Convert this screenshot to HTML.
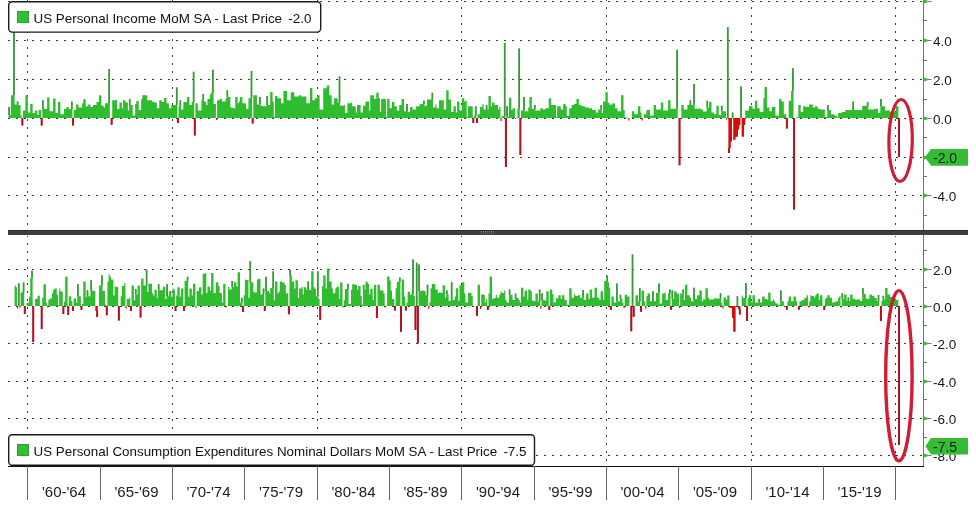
<!DOCTYPE html>
<html><head><meta charset="utf-8"><title>US Personal Income and Consumption</title>
<style>html,body{margin:0;padding:0;background:#fff;}svg{display:block;}</style>
</head><body>
<svg width="976" height="507" viewBox="0 0 976 507">
<style>
.gh{stroke:#3a3a3a;stroke-width:1;stroke-dasharray:2 6;}
.gv{stroke:#3a3a3a;stroke-width:1;stroke-dasharray:2 6;stroke-dashoffset:1;}
.tk{fill:#45b545;}
.tl{stroke:#5a7a5a;stroke-width:0.9;}
.mt{stroke:#4f8f4f;stroke-width:1;}
.al{font-family:"Liberation Sans",sans-serif;font-size:13.5px;fill:#161616;}
.xl{font-family:"Liberation Sans",sans-serif;font-size:15px;fill:#1c1c1c;text-anchor:middle;}
.sp{stroke:#666;stroke-width:1;}
.lg{font-family:"Liberation Sans",sans-serif;font-size:13.4px;fill:#111;}
</style>
<rect width="976" height="507" fill="#fff"/>
<line x1="8" y1="1.5" x2="923" y2="1.5" class="gh"/><line x1="8" y1="40.5" x2="923" y2="40.5" class="gh"/><line x1="8" y1="79.5" x2="923" y2="79.5" class="gh"/><line x1="8" y1="118.5" x2="923" y2="118.5" class="gh"/><line x1="8" y1="157.5" x2="923" y2="157.5" class="gh"/><line x1="8" y1="195.5" x2="923" y2="195.5" class="gh"/><line x1="8" y1="269.5" x2="923" y2="269.5" class="gh"/><line x1="8" y1="306.5" x2="923" y2="306.5" class="gh"/><line x1="8" y1="343.5" x2="923" y2="343.5" class="gh"/><line x1="8" y1="381.5" x2="923" y2="381.5" class="gh"/><line x1="8" y1="418.5" x2="923" y2="418.5" class="gh"/><line x1="8" y1="455.5" x2="923" y2="455.5" class="gh"/><line x1="27.5" y1="0" x2="27.5" y2="229" class="gv"/><line x1="27.5" y1="236" x2="27.5" y2="465" class="gv"/><line x1="172.5" y1="0" x2="172.5" y2="229" class="gv"/><line x1="172.5" y1="236" x2="172.5" y2="465" class="gv"/><line x1="317.5" y1="0" x2="317.5" y2="229" class="gv"/><line x1="317.5" y1="236" x2="317.5" y2="465" class="gv"/><line x1="461.5" y1="0" x2="461.5" y2="229" class="gv"/><line x1="461.5" y1="236" x2="461.5" y2="465" class="gv"/><line x1="606.5" y1="0" x2="606.5" y2="229" class="gv"/><line x1="606.5" y1="236" x2="606.5" y2="465" class="gv"/><line x1="751.5" y1="0" x2="751.5" y2="229" class="gv"/><line x1="751.5" y1="236" x2="751.5" y2="465" class="gv"/><line x1="895.5" y1="0" x2="895.5" y2="229" class="gv"/><line x1="895.5" y1="236" x2="895.5" y2="465" class="gv"/>
<path d="M8.52 107h1.21V118h-1.21zM9.72 115h1.21V118h-1.21zM10.93 95.3h1.21V118h-1.21zM12.13 95.3h1.21V118h-1.21zM13.34 18h1.21V118h-1.21zM14.55 104.5h1.21V118h-1.21zM15.75 104.5h1.21V118h-1.21zM16.96 101.4h1.21V118h-1.21zM18.16 105.1h1.21V118h-1.21zM19.37 105.1h1.21V118h-1.21zM20.57 115.5h1.21V118h-1.21zM22.99 110.6h1.21V118h-1.21zM24.19 110.6h1.21V118h-1.21zM25.4 95.3h1.21V118h-1.21zM26.6 95.3h1.21V118h-1.21zM27.81 112.5h1.21V118h-1.21zM29.02 112.5h1.21V118h-1.21zM30.22 104h1.21V118h-1.21zM31.43 104h1.21V118h-1.21zM32.63 113.1h1.21V118h-1.21zM33.84 113.1h1.21V118h-1.21zM35.04 110.6h1.21V118h-1.21zM36.25 110.6h1.21V118h-1.21zM37.46 115h1.21V118h-1.21zM38.66 110h1.21V118h-1.21zM39.87 110h1.21V118h-1.21zM42.28 100.2h1.21V118h-1.21zM43.48 109h1.21V118h-1.21zM44.69 109h1.21V118h-1.21zM45.9 109h1.21V118h-1.21zM47.1 97.5h1.21V118h-1.21zM48.31 97.5h1.21V118h-1.21zM49.51 111.2h1.21V118h-1.21zM50.72 111.2h1.21V118h-1.21zM51.93 111.2h1.21V118h-1.21zM53.13 98.4h1.21V118h-1.21zM54.34 98.4h1.21V118h-1.21zM55.54 113.1h1.21V118h-1.21zM56.75 113.1h1.21V118h-1.21zM57.95 102h1.21V118h-1.21zM59.16 102h1.21V118h-1.21zM60.37 114.3h1.21V118h-1.21zM61.57 114.3h1.21V118h-1.21zM62.78 114.3h1.21V118h-1.21zM63.98 109h1.21V118h-1.21zM65.19 109h1.21V118h-1.21zM66.4 107h1.21V118h-1.21zM67.6 107h1.21V118h-1.21zM68.81 109h1.21V118h-1.21zM70.01 109h1.21V118h-1.21zM71.22 101.4h1.21V118h-1.21zM73.63 110h1.21V118h-1.21zM74.84 110h1.21V118h-1.21zM76.04 104.5h1.21V118h-1.21zM77.25 104.5h1.21V118h-1.21zM78.45 107.5h1.21V118h-1.21zM79.66 107.5h1.21V118h-1.21zM80.86 107.5h1.21V118h-1.21zM82.07 103.2h1.21V118h-1.21zM83.28 99.3h1.21V118h-1.21zM84.48 99.3h1.21V118h-1.21zM85.69 106.3h1.21V118h-1.21zM86.89 106.3h1.21V118h-1.21zM88.1 104.5h1.21V118h-1.21zM89.31 104.5h1.21V118h-1.21zM90.51 107h1.21V118h-1.21zM91.72 107h1.21V118h-1.21zM92.92 105.1h1.21V118h-1.21zM94.13 105.1h1.21V118h-1.21zM95.33 105.1h1.21V118h-1.21zM96.54 102h1.21V118h-1.21zM97.75 102h1.21V118h-1.21zM98.95 95.3h1.21V118h-1.21zM100.16 95.3h1.21V118h-1.21zM101.36 105.7h1.21V118h-1.21zM102.57 105.7h1.21V118h-1.21zM103.77 107.5h1.21V118h-1.21zM104.98 103.2h1.21V118h-1.21zM106.19 103.2h1.21V118h-1.21zM107.39 103.2h1.21V118h-1.21zM108.6 69h1.21V118h-1.21zM112.22 100.2h1.21V118h-1.21zM113.42 100.2h1.21V118h-1.21zM114.63 100.2h1.21V118h-1.21zM115.83 100.2h1.21V118h-1.21zM117.04 109h1.21V118h-1.21zM118.24 109h1.21V118h-1.21zM119.45 102.6h1.21V118h-1.21zM120.66 102.6h1.21V118h-1.21zM121.86 108.2h1.21V118h-1.21zM123.07 100.2h1.21V118h-1.21zM124.27 100.2h1.21V118h-1.21zM125.48 102.6h1.21V118h-1.21zM126.69 102.6h1.21V118h-1.21zM127.89 110.6h1.21V118h-1.21zM129.1 99h1.21V118h-1.21zM130.3 105h1.21V118h-1.21zM131.51 105h1.21V118h-1.21zM132.71 115.5h1.21V118h-1.21zM133.92 115.5h1.21V118h-1.21zM135.13 104h1.21V118h-1.21zM136.33 101h1.21V118h-1.21zM137.54 101h1.21V118h-1.21zM138.74 110h1.21V118h-1.21zM139.95 110h1.21V118h-1.21zM141.15 99h1.21V118h-1.21zM142.36 95.3h1.21V118h-1.21zM143.57 95.3h1.21V118h-1.21zM144.77 95.3h1.21V118h-1.21zM145.98 95.3h1.21V118h-1.21zM147.18 100.2h1.21V118h-1.21zM148.39 100.2h1.21V118h-1.21zM149.6 100.2h1.21V118h-1.21zM150.8 100.2h1.21V118h-1.21zM152.01 101.8h1.21V118h-1.21zM153.21 101.8h1.21V118h-1.21zM154.42 102.6h1.21V118h-1.21zM155.62 102.6h1.21V118h-1.21zM156.83 108.2h1.21V118h-1.21zM158.04 108.2h1.21V118h-1.21zM159.24 100.2h1.21V118h-1.21zM160.45 100.2h1.21V118h-1.21zM161.65 102h1.21V118h-1.21zM162.86 102h1.21V118h-1.21zM164.06 98h1.21V118h-1.21zM165.27 98h1.21V118h-1.21zM166.48 103.2h1.21V118h-1.21zM167.68 103.2h1.21V118h-1.21zM168.89 108.2h1.21V118h-1.21zM170.09 108.2h1.21V118h-1.21zM171.3 105h1.21V118h-1.21zM172.51 105h1.21V118h-1.21zM173.71 105h1.21V118h-1.21zM174.92 105h1.21V118h-1.21zM176.12 87.5h1.21V118h-1.21zM178.53 106.3h1.21V118h-1.21zM179.74 100.2h1.21V118h-1.21zM180.95 109.4h1.21V118h-1.21zM182.15 109.4h1.21V118h-1.21zM183.36 102h1.21V118h-1.21zM184.56 102h1.21V118h-1.21zM185.77 102h1.21V118h-1.21zM186.98 97h1.21V118h-1.21zM188.18 97h1.21V118h-1.21zM189.39 105h1.21V118h-1.21zM190.59 105h1.21V118h-1.21zM191.8 102h1.21V118h-1.21zM193 71.7h1.21V118h-1.21zM195.42 103.2h1.21V118h-1.21zM196.62 103.2h1.21V118h-1.21zM197.83 110.6h1.21V118h-1.21zM199.03 110.6h1.21V118h-1.21zM200.24 110.6h1.21V118h-1.21zM201.44 100.2h1.21V118h-1.21zM202.65 94h1.21V118h-1.21zM203.86 101.4h1.21V118h-1.21zM205.06 101.4h1.21V118h-1.21zM206.27 105h1.21V118h-1.21zM207.47 99h1.21V118h-1.21zM208.68 99h1.21V118h-1.21zM209.89 94.6h1.21V118h-1.21zM211.09 92.2h1.21V118h-1.21zM212.3 69.7h1.21V118h-1.21zM213.5 104h1.21V118h-1.21zM214.71 104h1.21V118h-1.21zM217.12 100.2h1.21V118h-1.21zM218.33 100.2h1.21V118h-1.21zM219.53 99h1.21V118h-1.21zM220.74 99h1.21V118h-1.21zM221.94 101.4h1.21V118h-1.21zM223.15 101.4h1.21V118h-1.21zM224.35 101.4h1.21V118h-1.21zM225.56 98.3h1.21V118h-1.21zM226.77 90.3h1.21V118h-1.21zM227.97 97h1.21V118h-1.21zM229.18 97h1.21V118h-1.21zM230.38 107.5h1.21V118h-1.21zM231.59 107.5h1.21V118h-1.21zM232.8 108.2h1.21V118h-1.21zM234 108.2h1.21V118h-1.21zM235.21 97h1.21V118h-1.21zM236.41 97h1.21V118h-1.21zM237.62 103.2h1.21V118h-1.21zM238.82 101.4h1.21V118h-1.21zM240.03 97h1.21V118h-1.21zM241.24 97h1.21V118h-1.21zM242.44 103.2h1.21V118h-1.21zM243.65 103.2h1.21V118h-1.21zM244.85 103.2h1.21V118h-1.21zM246.06 108.8h1.21V118h-1.21zM247.27 108.8h1.21V118h-1.21zM248.47 98.3h1.21V118h-1.21zM249.68 98.3h1.21V118h-1.21zM250.88 71h1.21V118h-1.21zM253.29 95.3h1.21V118h-1.21zM254.5 95.3h1.21V118h-1.21zM255.71 95.3h1.21V118h-1.21zM256.91 104.5h1.21V118h-1.21zM258.12 104.5h1.21V118h-1.21zM259.32 97h1.21V118h-1.21zM260.53 105.7h1.21V118h-1.21zM261.73 105.7h1.21V118h-1.21zM262.94 106.3h1.21V118h-1.21zM264.15 106.3h1.21V118h-1.21zM265.35 106.3h1.21V118h-1.21zM266.56 96h1.21V118h-1.21zM267.76 105h1.21V118h-1.21zM268.97 105h1.21V118h-1.21zM270.18 92h1.21V118h-1.21zM271.38 92h1.21V118h-1.21zM272.59 101.4h1.21V118h-1.21zM273.79 117h1.21V118h-1.21zM275 96h1.21V118h-1.21zM276.2 96h1.21V118h-1.21zM277.41 98.3h1.21V118h-1.21zM278.62 98.3h1.21V118h-1.21zM279.82 98.3h1.21V118h-1.21zM281.03 103.2h1.21V118h-1.21zM282.23 103.2h1.21V118h-1.21zM283.44 91h1.21V118h-1.21zM284.64 91h1.21V118h-1.21zM285.85 91h1.21V118h-1.21zM287.06 100.2h1.21V118h-1.21zM288.26 100.2h1.21V118h-1.21zM289.47 100.2h1.21V118h-1.21zM290.67 92.2h1.21V118h-1.21zM291.88 92.2h1.21V118h-1.21zM293.09 92.2h1.21V118h-1.21zM294.29 96.5h1.21V118h-1.21zM295.5 96.5h1.21V118h-1.21zM296.7 96.5h1.21V118h-1.21zM297.91 96.5h1.21V118h-1.21zM299.11 95.3h1.21V118h-1.21zM300.32 95.3h1.21V118h-1.21zM301.53 96.5h1.21V118h-1.21zM302.73 96.5h1.21V118h-1.21zM303.94 96.5h1.21V118h-1.21zM305.14 96.5h1.21V118h-1.21zM306.35 103.2h1.21V118h-1.21zM307.56 103.2h1.21V118h-1.21zM308.76 103.2h1.21V118h-1.21zM309.97 88h1.21V118h-1.21zM311.17 88h1.21V118h-1.21zM312.38 100.2h1.21V118h-1.21zM313.58 100.2h1.21V118h-1.21zM314.79 98.3h1.21V118h-1.21zM316 98.3h1.21V118h-1.21zM317.2 95.3h1.21V118h-1.21zM318.41 95.3h1.21V118h-1.21zM319.61 109.4h1.21V118h-1.21zM320.82 109.4h1.21V118h-1.21zM322.02 109.4h1.21V118h-1.21zM323.23 88.2h1.21V118h-1.21zM324.44 88.2h1.21V118h-1.21zM325.64 88.2h1.21V118h-1.21zM326.85 85.4h1.21V118h-1.21zM328.05 85.4h1.21V118h-1.21zM329.26 95.3h1.21V118h-1.21zM330.47 95.3h1.21V118h-1.21zM331.67 104.5h1.21V118h-1.21zM332.88 104.5h1.21V118h-1.21zM334.08 98.3h1.21V118h-1.21zM335.29 98.3h1.21V118h-1.21zM336.49 98.3h1.21V118h-1.21zM337.7 102.6h1.21V118h-1.21zM338.91 76.6h1.21V118h-1.21zM340.11 105.7h1.21V118h-1.21zM341.32 105.7h1.21V118h-1.21zM342.52 105.7h1.21V118h-1.21zM343.73 105h1.21V118h-1.21zM344.93 113h1.21V118h-1.21zM346.14 113h1.21V118h-1.21zM347.35 103.2h1.21V118h-1.21zM348.55 103.2h1.21V118h-1.21zM349.76 103.2h1.21V118h-1.21zM350.96 102.6h1.21V118h-1.21zM352.17 106.3h1.21V118h-1.21zM353.38 106.3h1.21V118h-1.21zM354.58 106.3h1.21V118h-1.21zM355.79 112.5h1.21V118h-1.21zM356.99 105h1.21V118h-1.21zM358.2 105h1.21V118h-1.21zM359.4 105h1.21V118h-1.21zM360.61 112.5h1.21V118h-1.21zM361.82 112.5h1.21V118h-1.21zM363.02 105.7h1.21V118h-1.21zM364.23 105.7h1.21V118h-1.21zM365.43 101.4h1.21V118h-1.21zM366.64 101.4h1.21V118h-1.21zM367.85 101.4h1.21V118h-1.21zM369.05 110.6h1.21V118h-1.21zM370.26 95.3h1.21V118h-1.21zM371.46 95.3h1.21V118h-1.21zM372.67 95.3h1.21V118h-1.21zM373.87 99h1.21V118h-1.21zM375.08 99h1.21V118h-1.21zM376.29 92.8h1.21V118h-1.21zM377.49 92.8h1.21V118h-1.21zM378.7 98.3h1.21V118h-1.21zM379.9 112h1.21V118h-1.21zM381.11 99h1.21V118h-1.21zM382.31 99h1.21V118h-1.21zM383.52 99h1.21V118h-1.21zM384.73 99h1.21V118h-1.21zM385.93 116.8h1.21V118h-1.21zM387.14 99h1.21V118h-1.21zM388.34 99h1.21V118h-1.21zM389.55 108.2h1.21V118h-1.21zM390.76 108.2h1.21V118h-1.21zM391.96 102h1.21V118h-1.21zM393.17 102h1.21V118h-1.21zM394.37 106.3h1.21V118h-1.21zM395.58 106.3h1.21V118h-1.21zM396.78 110.6h1.21V118h-1.21zM397.99 110.6h1.21V118h-1.21zM399.2 105h1.21V118h-1.21zM400.4 105h1.21V118h-1.21zM401.61 99h1.21V118h-1.21zM402.81 99h1.21V118h-1.21zM404.02 111.2h1.21V118h-1.21zM405.22 111.2h1.21V118h-1.21zM406.43 104h1.21V118h-1.21zM407.64 112h1.21V118h-1.21zM408.84 112h1.21V118h-1.21zM410.05 107h1.21V118h-1.21zM411.25 107h1.21V118h-1.21zM412.46 109.4h1.21V118h-1.21zM413.67 109.4h1.21V118h-1.21zM414.87 109.4h1.21V118h-1.21zM416.08 106.3h1.21V118h-1.21zM417.28 106.3h1.21V118h-1.21zM418.49 106.3h1.21V118h-1.21zM419.69 104h1.21V118h-1.21zM420.9 104h1.21V118h-1.21zM422.11 104h1.21V118h-1.21zM423.31 100.8h1.21V118h-1.21zM424.52 105.7h1.21V118h-1.21zM425.72 105.7h1.21V118h-1.21zM426.93 99.6h1.21V118h-1.21zM428.14 99.6h1.21V118h-1.21zM429.34 99.6h1.21V118h-1.21zM430.55 99.6h1.21V118h-1.21zM431.75 92.8h1.21V118h-1.21zM432.96 107.5h1.21V118h-1.21zM434.16 107.5h1.21V118h-1.21zM435.37 104.5h1.21V118h-1.21zM436.58 108.2h1.21V118h-1.21zM437.78 108.2h1.21V118h-1.21zM438.99 100.2h1.21V118h-1.21zM440.19 100.2h1.21V118h-1.21zM441.4 100.2h1.21V118h-1.21zM442.6 100.2h1.21V118h-1.21zM443.81 109.4h1.21V118h-1.21zM445.02 109.4h1.21V118h-1.21zM446.22 90.3h1.21V118h-1.21zM447.43 90.3h1.21V118h-1.21zM448.63 99.6h1.21V118h-1.21zM449.84 99.6h1.21V118h-1.21zM451.05 112h1.21V118h-1.21zM452.25 112h1.21V118h-1.21zM453.46 106.3h1.21V118h-1.21zM454.66 106.3h1.21V118h-1.21zM455.87 112.5h1.21V118h-1.21zM457.07 101.4h1.21V118h-1.21zM458.28 101.4h1.21V118h-1.21zM459.49 110.6h1.21V118h-1.21zM460.69 110.6h1.21V118h-1.21zM461.9 98.3h1.21V118h-1.21zM463.1 98.3h1.21V118h-1.21zM464.31 101.4h1.21V118h-1.21zM465.51 100.8h1.21V118h-1.21zM466.72 117h1.21V118h-1.21zM467.93 106.3h1.21V118h-1.21zM469.13 106.3h1.21V118h-1.21zM470.34 106.3h1.21V118h-1.21zM471.54 106.3h1.21V118h-1.21zM473.96 115.5h1.21V118h-1.21zM475.16 106.3h1.21V118h-1.21zM477.57 114.3h1.21V118h-1.21zM478.78 114.3h1.21V118h-1.21zM479.98 107h1.21V118h-1.21zM481.19 107h1.21V118h-1.21zM482.4 104h1.21V118h-1.21zM483.6 109.4h1.21V118h-1.21zM484.81 109.4h1.21V118h-1.21zM486.01 105h1.21V118h-1.21zM487.22 109.4h1.21V118h-1.21zM488.43 96h1.21V118h-1.21zM489.63 96h1.21V118h-1.21zM490.84 106.3h1.21V118h-1.21zM492.04 102.6h1.21V118h-1.21zM493.25 102.6h1.21V118h-1.21zM494.45 105h1.21V118h-1.21zM495.66 105h1.21V118h-1.21zM496.87 105h1.21V118h-1.21zM498.07 109.4h1.21V118h-1.21zM499.28 107h1.21V118h-1.21zM501.69 116h1.21V118h-1.21zM502.89 116h1.21V118h-1.21zM504.1 43h1.21V118h-1.21zM506.51 106.3h1.21V118h-1.21zM507.72 117h1.21V118h-1.21zM508.92 97.7h1.21V118h-1.21zM510.13 97.7h1.21V118h-1.21zM511.34 110h1.21V118h-1.21zM512.54 108.2h1.21V118h-1.21zM513.75 108.2h1.21V118h-1.21zM517.36 108.8h1.21V118h-1.21zM518.57 48.5h1.21V118h-1.21zM520.98 110.6h1.21V118h-1.21zM522.19 110.6h1.21V118h-1.21zM523.39 97h1.21V118h-1.21zM524.6 111.2h1.21V118h-1.21zM525.8 111.2h1.21V118h-1.21zM527.01 111.2h1.21V118h-1.21zM528.22 107.5h1.21V118h-1.21zM529.42 97h1.21V118h-1.21zM530.63 97h1.21V118h-1.21zM531.83 108.8h1.21V118h-1.21zM533.04 108.8h1.21V118h-1.21zM534.25 105h1.21V118h-1.21zM535.45 110.6h1.21V118h-1.21zM536.66 110.6h1.21V118h-1.21zM537.86 110.6h1.21V118h-1.21zM539.07 110.6h1.21V118h-1.21zM540.27 108.2h1.21V118h-1.21zM541.48 108.2h1.21V118h-1.21zM542.69 109.4h1.21V118h-1.21zM543.89 109.4h1.21V118h-1.21zM545.1 108.2h1.21V118h-1.21zM546.3 108.2h1.21V118h-1.21zM547.51 108.2h1.21V118h-1.21zM548.72 98.3h1.21V118h-1.21zM549.92 98.3h1.21V118h-1.21zM551.13 105h1.21V118h-1.21zM552.33 105h1.21V118h-1.21zM553.54 105h1.21V118h-1.21zM554.74 105h1.21V118h-1.21zM555.95 117h1.21V118h-1.21zM557.16 106.3h1.21V118h-1.21zM558.36 106.3h1.21V118h-1.21zM559.57 106.3h1.21V118h-1.21zM560.77 109.4h1.21V118h-1.21zM561.98 109.4h1.21V118h-1.21zM563.18 104h1.21V118h-1.21zM564.39 104h1.21V118h-1.21zM565.6 106.3h1.21V118h-1.21zM566.8 116h1.21V118h-1.21zM568.01 116h1.21V118h-1.21zM569.21 108.2h1.21V118h-1.21zM570.42 108.2h1.21V118h-1.21zM571.63 105h1.21V118h-1.21zM572.83 105h1.21V118h-1.21zM574.04 104h1.21V118h-1.21zM575.24 104h1.21V118h-1.21zM576.45 99h1.21V118h-1.21zM577.65 99h1.21V118h-1.21zM578.86 105h1.21V118h-1.21zM580.07 105h1.21V118h-1.21zM581.27 106.3h1.21V118h-1.21zM582.48 106.3h1.21V118h-1.21zM583.68 106.3h1.21V118h-1.21zM584.89 107.5h1.21V118h-1.21zM586.09 107.5h1.21V118h-1.21zM587.3 107.5h1.21V118h-1.21zM588.51 108.2h1.21V118h-1.21zM589.71 108.2h1.21V118h-1.21zM590.92 108.2h1.21V118h-1.21zM592.12 110h1.21V118h-1.21zM593.33 110h1.21V118h-1.21zM594.54 110h1.21V118h-1.21zM595.74 112.5h1.21V118h-1.21zM596.95 112.5h1.21V118h-1.21zM598.15 109.4h1.21V118h-1.21zM599.36 109.4h1.21V118h-1.21zM600.56 105h1.21V118h-1.21zM601.77 113h1.21V118h-1.21zM602.98 101.4h1.21V118h-1.21zM604.18 101.4h1.21V118h-1.21zM605.39 92.2h1.21V118h-1.21zM606.59 92.2h1.21V118h-1.21zM607.8 102.6h1.21V118h-1.21zM609.01 104.5h1.21V118h-1.21zM610.21 104.5h1.21V118h-1.21zM611.42 104.5h1.21V118h-1.21zM612.62 103.2h1.21V118h-1.21zM613.83 103.2h1.21V118h-1.21zM615.03 108.2h1.21V118h-1.21zM616.24 108.2h1.21V118h-1.21zM617.45 111.2h1.21V118h-1.21zM618.65 111.2h1.21V118h-1.21zM619.86 111.2h1.21V118h-1.21zM621.06 95.3h1.21V118h-1.21zM622.27 95.3h1.21V118h-1.21zM623.47 110h1.21V118h-1.21zM624.68 117.5h1.21V118h-1.21zM625.89 117.5h1.21V118h-1.21zM627.09 117.5h1.21V118h-1.21zM631.92 111.2h1.21V118h-1.21zM633.12 111.2h1.21V118h-1.21zM634.33 114.3h1.21V118h-1.21zM635.53 114.3h1.21V118h-1.21zM636.74 114.3h1.21V118h-1.21zM637.94 106.3h1.21V118h-1.21zM639.15 106.3h1.21V118h-1.21zM640.36 112.5h1.21V118h-1.21zM643.97 114.3h1.21V118h-1.21zM645.18 114.3h1.21V118h-1.21zM646.38 110h1.21V118h-1.21zM647.59 110h1.21V118h-1.21zM648.8 110h1.21V118h-1.21zM650 115.5h1.21V118h-1.21zM651.21 115.5h1.21V118h-1.21zM652.41 115.5h1.21V118h-1.21zM653.62 105h1.21V118h-1.21zM654.83 105h1.21V118h-1.21zM656.03 109.4h1.21V118h-1.21zM657.24 109.4h1.21V118h-1.21zM658.44 109.4h1.21V118h-1.21zM659.65 109.4h1.21V118h-1.21zM660.85 102.6h1.21V118h-1.21zM662.06 102.6h1.21V118h-1.21zM663.27 110.6h1.21V118h-1.21zM664.47 110.6h1.21V118h-1.21zM665.68 110.6h1.21V118h-1.21zM666.88 110.6h1.21V118h-1.21zM668.09 100.2h1.21V118h-1.21zM669.3 100.2h1.21V118h-1.21zM670.5 108.8h1.21V118h-1.21zM671.71 108.8h1.21V118h-1.21zM672.91 108.8h1.21V118h-1.21zM674.12 108.8h1.21V118h-1.21zM675.32 108.8h1.21V118h-1.21zM676.53 49.7h1.21V118h-1.21zM681.35 105h1.21V118h-1.21zM682.56 105h1.21V118h-1.21zM683.76 109.4h1.21V118h-1.21zM684.97 109.4h1.21V118h-1.21zM686.18 109.4h1.21V118h-1.21zM687.38 105h1.21V118h-1.21zM688.59 105h1.21V118h-1.21zM689.79 100.2h1.21V118h-1.21zM691 105h1.21V118h-1.21zM692.21 105h1.21V118h-1.21zM693.41 84h1.21V118h-1.21zM694.62 108.8h1.21V118h-1.21zM695.82 108.8h1.21V118h-1.21zM697.03 108.8h1.21V118h-1.21zM698.23 108.8h1.21V118h-1.21zM699.44 108.2h1.21V118h-1.21zM700.65 109.4h1.21V118h-1.21zM701.85 109.4h1.21V118h-1.21zM703.06 111.5h1.21V118h-1.21zM704.26 111.5h1.21V118h-1.21zM705.47 111.5h1.21V118h-1.21zM706.67 100.8h1.21V118h-1.21zM707.88 107.5h1.21V118h-1.21zM709.09 102h1.21V118h-1.21zM710.29 102h1.21V118h-1.21zM711.5 112.5h1.21V118h-1.21zM712.7 112.5h1.21V118h-1.21zM713.91 114.3h1.21V118h-1.21zM715.12 114.3h1.21V118h-1.21zM716.32 105.7h1.21V118h-1.21zM717.53 105.7h1.21V118h-1.21zM718.73 115h1.21V118h-1.21zM719.94 115h1.21V118h-1.21zM721.14 105.7h1.21V118h-1.21zM722.35 111.2h1.21V118h-1.21zM723.56 111.2h1.21V118h-1.21zM724.76 111.2h1.21V118h-1.21zM727.17 27.2h1.21V118h-1.21zM732 112.5h1.21V118h-1.21zM740.44 86.5h1.21V118h-1.21zM745.26 110.6h1.21V118h-1.21zM746.47 110.6h1.21V118h-1.21zM747.67 110.6h1.21V118h-1.21zM748.88 106.3h1.21V118h-1.21zM750.08 106.3h1.21V118h-1.21zM751.29 106.3h1.21V118h-1.21zM752.5 108.8h1.21V118h-1.21zM753.7 108.8h1.21V118h-1.21zM754.91 100.8h1.21V118h-1.21zM756.11 100.8h1.21V118h-1.21zM757.32 108.2h1.21V118h-1.21zM758.52 108.2h1.21V118h-1.21zM759.73 112h1.21V118h-1.21zM760.94 112h1.21V118h-1.21zM762.14 112h1.21V118h-1.21zM763.35 98.3h1.21V118h-1.21zM764.55 87h1.21V118h-1.21zM765.76 87h1.21V118h-1.21zM766.96 107.5h1.21V118h-1.21zM768.17 107.5h1.21V118h-1.21zM769.38 111.2h1.21V118h-1.21zM770.58 111.2h1.21V118h-1.21zM771.79 107h1.21V118h-1.21zM772.99 107h1.21V118h-1.21zM774.2 107h1.21V118h-1.21zM775.41 115.5h1.21V118h-1.21zM776.61 115.5h1.21V118h-1.21zM777.82 115.5h1.21V118h-1.21zM779.02 99h1.21V118h-1.21zM780.23 99h1.21V118h-1.21zM781.43 101.4h1.21V118h-1.21zM782.64 101.4h1.21V118h-1.21zM783.85 114.3h1.21V118h-1.21zM785.05 114.3h1.21V118h-1.21zM788.67 100.8h1.21V118h-1.21zM789.88 100.8h1.21V118h-1.21zM791.08 91h1.21V118h-1.21zM792.29 68.3h1.21V118h-1.21zM795.9 117.5h1.21V118h-1.21zM797.11 117h1.21V118h-1.21zM798.32 105h1.21V118h-1.21zM799.52 105h1.21V118h-1.21zM800.73 112h1.21V118h-1.21zM801.93 112h1.21V118h-1.21zM803.14 106.3h1.21V118h-1.21zM804.34 106.3h1.21V118h-1.21zM805.55 107h1.21V118h-1.21zM806.76 107h1.21V118h-1.21zM807.96 107h1.21V118h-1.21zM809.17 104.5h1.21V118h-1.21zM810.37 104.5h1.21V118h-1.21zM811.58 104.5h1.21V118h-1.21zM812.79 107.5h1.21V118h-1.21zM813.99 107.5h1.21V118h-1.21zM815.2 106.3h1.21V118h-1.21zM816.4 106.3h1.21V118h-1.21zM817.61 108.8h1.21V118h-1.21zM818.81 108.8h1.21V118h-1.21zM820.02 109.4h1.21V118h-1.21zM821.23 109.4h1.21V118h-1.21zM822.43 109.4h1.21V118h-1.21zM823.64 109.4h1.21V118h-1.21zM824.84 117h1.21V118h-1.21zM826.05 117h1.21V118h-1.21zM827.25 105h1.21V118h-1.21zM828.46 110h1.21V118h-1.21zM829.67 110h1.21V118h-1.21zM830.87 114.3h1.21V118h-1.21zM832.08 114.3h1.21V118h-1.21zM833.28 114.3h1.21V118h-1.21zM834.49 115.5h1.21V118h-1.21zM835.7 115.5h1.21V118h-1.21zM836.9 117.4h1.21V118h-1.21zM838.11 113h1.21V118h-1.21zM839.31 113h1.21V118h-1.21zM840.52 113h1.21V118h-1.21zM841.72 112h1.21V118h-1.21zM842.93 112h1.21V118h-1.21zM844.14 112h1.21V118h-1.21zM845.34 110h1.21V118h-1.21zM846.55 110h1.21V118h-1.21zM847.75 110h1.21V118h-1.21zM848.96 110h1.21V118h-1.21zM850.17 110h1.21V118h-1.21zM851.37 110h1.21V118h-1.21zM852.58 101.4h1.21V118h-1.21zM853.78 110h1.21V118h-1.21zM854.99 110h1.21V118h-1.21zM856.19 110h1.21V118h-1.21zM857.4 110h1.21V118h-1.21zM858.61 110h1.21V118h-1.21zM859.81 110h1.21V118h-1.21zM861.02 110h1.21V118h-1.21zM862.22 105.7h1.21V118h-1.21zM863.43 105.7h1.21V118h-1.21zM864.63 105.7h1.21V118h-1.21zM865.84 105.7h1.21V118h-1.21zM867.05 102h1.21V118h-1.21zM868.25 109.4h1.21V118h-1.21zM869.46 109.4h1.21V118h-1.21zM870.66 109.4h1.21V118h-1.21zM871.87 109.4h1.21V118h-1.21zM873.08 109.4h1.21V118h-1.21zM874.28 108.8h1.21V118h-1.21zM875.49 108.8h1.21V118h-1.21zM876.69 108.8h1.21V118h-1.21zM877.9 113h1.21V118h-1.21zM879.1 113h1.21V118h-1.21zM880.31 99h1.21V118h-1.21zM881.52 106.3h1.21V118h-1.21zM882.72 106.3h1.21V118h-1.21zM883.93 106.3h1.21V118h-1.21zM885.13 110.6h1.21V118h-1.21zM886.34 110.6h1.21V118h-1.21zM887.54 110.6h1.21V118h-1.21zM888.75 110.6h1.21V118h-1.21zM889.96 112h1.21V118h-1.21zM891.16 112h1.21V118h-1.21zM892.37 112h1.21V118h-1.21zM893.57 112h1.21V118h-1.21zM894.78 112h1.21V118h-1.21zM895.99 106.3h1.21V118h-1.21zM897.19 106.3h1.21V118h-1.21z" fill="#2fbd2f"/>
<path d="M8.27 107h1.7V115h-1.7zM13.09 18h1.7V95.3h-1.7zM16.71 101.4h1.7V104.5h-1.7zM42.03 100.2h1.7V109h-1.7zM70.97 101.4h1.7V109h-1.7zM108.35 69h1.7V103.2h-1.7zM128.85 99h1.7V105h-1.7zM175.88 87.5h1.7V105h-1.7zM179.49 100.2h1.7V106.3h-1.7zM192.76 71.7h1.7V102h-1.7zM202.4 94h1.7V100.2h-1.7zM212.05 69.7h1.7V92.2h-1.7zM226.52 90.3h1.7V97h-1.7zM250.64 71h1.7V98.3h-1.7zM259.08 97h1.7V104.5h-1.7zM266.31 96h1.7V105h-1.7zM338.66 76.6h1.7V102.6h-1.7zM406.18 104h1.7V111.2h-1.7zM423.06 100.8h1.7V104h-1.7zM431.51 92.8h1.7V99.6h-1.7zM474.91 106.3h1.7V115.5h-1.7zM485.77 105h1.7V109.4h-1.7zM503.85 43h1.7V116h-1.7zM506.26 106.3h1.7V117h-1.7zM518.32 48.5h1.7V108.8h-1.7zM523.15 97h1.7V110.6h-1.7zM534 105h1.7V108.8h-1.7zM600.32 105h1.7V109.4h-1.7zM676.28 49.7h1.7V108.8h-1.7zM689.55 100.2h1.7V105h-1.7zM693.16 84h1.7V105h-1.7zM706.43 100.8h1.7V107.5h-1.7zM720.9 105.7h1.7V111.2h-1.7zM726.93 27.2h1.7V118h-1.7zM731.75 112.5h1.7V118h-1.7zM740.19 86.5h1.7V118h-1.7zM792.04 68.3h1.7V91h-1.7zM827.01 105h1.7V110h-1.7zM852.33 101.4h1.7V110h-1.7zM866.8 102h1.7V105.7h-1.7zM880.06 99h1.7V106.3h-1.7z" fill="#3d963d"/>
<path d="M21.78 118h1.21V125.4h-1.21zM41.07 118h1.21V125.4h-1.21zM72.42 118h1.21V125.4h-1.21zM111.01 118h1.21V124.8h-1.21zM177.33 118h1.21V122.9h-1.21zM194.21 118h1.21V135.5h-1.21zM215.91 118h1.21V120h-1.21zM252.09 118h1.21V123.5h-1.21zM472.75 118h1.21V122.9h-1.21zM476.37 118h1.21V122.9h-1.21zM500.48 118h1.21V121h-1.21zM505.31 118h1.21V167h-1.21zM514.95 118h1.21V119h-1.21zM519.78 118h1.21V155h-1.21zM628.3 118h1.21V120.5h-1.21zM641.56 118h1.21V120.5h-1.21zM678.94 118h1.21V165.3h-1.21zM725.97 118h1.21V119.5h-1.21zM728.38 118h1.21V153h-1.21zM729.59 118h1.21V148h-1.21zM730.79 118h1.21V141.6h-1.21zM733.2 118h1.21V139.7h-1.21zM734.41 118h1.21V139.7h-1.21zM735.61 118h1.21V136.7h-1.21zM736.82 118h1.21V136.7h-1.21zM738.03 118h1.21V129.8h-1.21zM739.23 118h1.21V124.9h-1.21zM741.64 118h1.21V136.7h-1.21zM742.85 118h1.21V136.7h-1.21zM744.05 118h1.21V124.9h-1.21zM786.26 118h1.21V128.6h-1.21zM793.49 118h1.21V209.5h-1.21zM898.4 118h1.21V157h-1.21z" fill="#d60b0b"/>
<path d="M21.38 118h2V125.4h-2zM40.68 118h2V125.4h-2zM72.03 118h2V125.4h-2zM110.61 118h2V124.8h-2zM176.93 118h2V122.9h-2zM193.81 118h2V135.5h-2zM251.69 118h2V123.5h-2zM472.35 118h2V122.9h-2zM475.97 118h2V122.9h-2zM504.91 118h2V167h-2zM519.38 118h2V155h-2zM678.54 118h2V165.3h-2zM727.98 148h2V153h-2zM785.86 118h2V128.6h-2zM793.1 118h2V209.5h-2zM898 118h2V157h-2z" fill="#ad1420"/>
<path d="M14.55 285.5h1.21V306h-1.21zM15.75 287.3h1.21V306h-1.21zM18.16 283.2h1.21V306h-1.21zM20.57 292.6h1.21V306h-1.21zM21.78 292h1.21V306h-1.21zM22.99 282.6h1.21V306h-1.21zM26.6 302.7h1.21V306h-1.21zM27.81 302.7h1.21V306h-1.21zM29.02 296.8h1.21V306h-1.21zM30.22 278.4h1.21V306h-1.21zM31.43 270.7h1.21V306h-1.21zM35.04 299.1h1.21V306h-1.21zM36.25 299.1h1.21V306h-1.21zM37.46 296.2h1.21V306h-1.21zM38.66 295.6h1.21V306h-1.21zM42.28 297.4h1.21V306h-1.21zM43.48 284.3h1.21V306h-1.21zM44.69 284.3h1.21V306h-1.21zM45.9 302.7h1.21V306h-1.21zM48.31 299.7h1.21V306h-1.21zM49.51 298.5h1.21V306h-1.21zM50.72 298.5h1.21V306h-1.21zM51.93 293.2h1.21V306h-1.21zM53.13 289.7h1.21V306h-1.21zM54.34 288.5h1.21V306h-1.21zM55.54 288.5h1.21V306h-1.21zM56.75 294.4h1.21V306h-1.21zM57.95 305h1.21V306h-1.21zM59.16 288.5h1.21V306h-1.21zM60.37 291.4h1.21V306h-1.21zM61.57 291.4h1.21V306h-1.21zM63.98 301.5h1.21V306h-1.21zM65.19 276.7h1.21V306h-1.21zM66.4 276.7h1.21V306h-1.21zM68.81 296.2h1.21V306h-1.21zM70.01 296.2h1.21V306h-1.21zM71.22 300.9h1.21V306h-1.21zM73.63 298.5h1.21V306h-1.21zM74.84 298.5h1.21V306h-1.21zM76.04 302.7h1.21V306h-1.21zM77.25 284.3h1.21V306h-1.21zM78.45 296.2h1.21V306h-1.21zM79.66 296.2h1.21V306h-1.21zM82.07 304h1.21V306h-1.21zM83.28 281.4h1.21V306h-1.21zM84.48 281.4h1.21V306h-1.21zM85.69 296.8h1.21V306h-1.21zM86.89 290.3h1.21V306h-1.21zM88.1 296.2h1.21V306h-1.21zM89.31 296.2h1.21V306h-1.21zM90.51 280.2h1.21V306h-1.21zM91.72 290.3h1.21V306h-1.21zM92.92 290.9h1.21V306h-1.21zM94.13 290.9h1.21V306h-1.21zM98.95 285.5h1.21V306h-1.21zM100.16 285.5h1.21V306h-1.21zM101.36 275.5h1.21V306h-1.21zM102.57 290.9h1.21V306h-1.21zM103.77 290.9h1.21V306h-1.21zM104.98 304.5h1.21V306h-1.21zM107.39 281.4h1.21V306h-1.21zM108.6 274.3h1.21V306h-1.21zM109.8 276.7h1.21V306h-1.21zM111.01 279.6h1.21V306h-1.21zM112.22 279.6h1.21V306h-1.21zM113.42 295.6h1.21V306h-1.21zM114.63 286.7h1.21V306h-1.21zM115.83 286.7h1.21V306h-1.21zM117.04 287.3h1.21V306h-1.21zM120.66 296.2h1.21V306h-1.21zM121.86 286.1h1.21V306h-1.21zM123.07 286.1h1.21V306h-1.21zM124.27 283.2h1.21V306h-1.21zM126.69 299.1h1.21V306h-1.21zM127.89 299.1h1.21V306h-1.21zM129.1 297.4h1.21V306h-1.21zM131.51 285.5h1.21V306h-1.21zM132.71 285.5h1.21V306h-1.21zM133.92 300.3h1.21V306h-1.21zM135.13 289.1h1.21V306h-1.21zM136.33 294.4h1.21V306h-1.21zM137.54 285.5h1.21V306h-1.21zM138.74 285.5h1.21V306h-1.21zM141.15 278.4h1.21V306h-1.21zM142.36 278.4h1.21V306h-1.21zM143.57 285.5h1.21V306h-1.21zM144.77 285.5h1.21V306h-1.21zM145.98 269.6h1.21V306h-1.21zM147.18 292h1.21V306h-1.21zM148.39 283.8h1.21V306h-1.21zM149.6 283.8h1.21V306h-1.21zM150.8 283.8h1.21V306h-1.21zM152.01 293.2h1.21V306h-1.21zM153.21 295.6h1.21V306h-1.21zM154.42 289.7h1.21V306h-1.21zM155.62 289.7h1.21V306h-1.21zM156.83 298h1.21V306h-1.21zM158.04 284.3h1.21V306h-1.21zM159.24 290.3h1.21V306h-1.21zM160.45 290.3h1.21V306h-1.21zM161.65 290.3h1.21V306h-1.21zM162.86 286.7h1.21V306h-1.21zM164.06 286.7h1.21V306h-1.21zM165.27 299.1h1.21V306h-1.21zM166.48 284.3h1.21V306h-1.21zM167.68 296.2h1.21V306h-1.21zM168.89 290.9h1.21V306h-1.21zM170.09 290.9h1.21V306h-1.21zM171.3 296.8h1.21V306h-1.21zM172.51 288.5h1.21V306h-1.21zM173.71 289.7h1.21V306h-1.21zM176.12 295.6h1.21V306h-1.21zM177.33 287.3h1.21V306h-1.21zM178.53 287.3h1.21V306h-1.21zM179.74 296.8h1.21V306h-1.21zM180.95 288.5h1.21V306h-1.21zM182.15 288.5h1.21V306h-1.21zM184.56 280.8h1.21V306h-1.21zM185.77 280.8h1.21V306h-1.21zM186.98 276.7h1.21V306h-1.21zM188.18 296.8h1.21V306h-1.21zM189.39 288.5h1.21V306h-1.21zM190.59 288.5h1.21V306h-1.21zM191.8 295.6h1.21V306h-1.21zM193 283.8h1.21V306h-1.21zM194.21 283.8h1.21V306h-1.21zM196.62 290.9h1.21V306h-1.21zM197.83 290.9h1.21V306h-1.21zM199.03 287.3h1.21V306h-1.21zM200.24 287.3h1.21V306h-1.21zM201.44 294.4h1.21V306h-1.21zM202.65 273.7h1.21V306h-1.21zM203.86 273.7h1.21V306h-1.21zM205.06 273h1.21V306h-1.21zM206.27 293h1.21V306h-1.21zM207.47 286.5h1.21V306h-1.21zM208.68 286.5h1.21V306h-1.21zM209.89 290.6h1.21V306h-1.21zM211.09 273h1.21V306h-1.21zM212.3 273h1.21V306h-1.21zM213.5 293h1.21V306h-1.21zM214.71 293h1.21V306h-1.21zM215.91 282.3h1.21V306h-1.21zM217.12 282.3h1.21V306h-1.21zM218.33 286h1.21V306h-1.21zM219.53 293h1.21V306h-1.21zM220.74 293h1.21V306h-1.21zM221.94 302.5h1.21V306h-1.21zM223.15 284.1h1.21V306h-1.21zM224.35 284.1h1.21V306h-1.21zM227.97 287.1h1.21V306h-1.21zM229.18 289.4h1.21V306h-1.21zM230.38 289.4h1.21V306h-1.21zM231.59 281.1h1.21V306h-1.21zM232.8 287.1h1.21V306h-1.21zM234 282.3h1.21V306h-1.21zM235.21 282.3h1.21V306h-1.21zM236.41 286.5h1.21V306h-1.21zM237.62 272.3h1.21V306h-1.21zM238.82 272.3h1.21V306h-1.21zM240.03 302.5h1.21V306h-1.21zM241.24 297.7h1.21V306h-1.21zM243.65 295.3h1.21V306h-1.21zM244.85 279.4h1.21V306h-1.21zM246.06 280h1.21V306h-1.21zM247.27 280h1.21V306h-1.21zM248.47 297.7h1.21V306h-1.21zM249.68 261h1.21V306h-1.21zM250.88 282.3h1.21V306h-1.21zM252.09 282.3h1.21V306h-1.21zM253.29 291.8h1.21V306h-1.21zM254.5 292.6h1.21V306h-1.21zM255.71 292.6h1.21V306h-1.21zM256.91 279.6h1.21V306h-1.21zM258.12 279h1.21V306h-1.21zM259.32 279h1.21V306h-1.21zM260.53 294.4h1.21V306h-1.21zM261.73 294.4h1.21V306h-1.21zM262.94 288.5h1.21V306h-1.21zM265.35 276.7h1.21V306h-1.21zM266.56 290.9h1.21V306h-1.21zM267.76 290.9h1.21V306h-1.21zM268.97 293.2h1.21V306h-1.21zM270.18 287.9h1.21V306h-1.21zM271.38 287.9h1.21V306h-1.21zM272.59 271.3h1.21V306h-1.21zM273.79 300.3h1.21V306h-1.21zM275 281.4h1.21V306h-1.21zM276.2 281.4h1.21V306h-1.21zM277.41 293.2h1.21V306h-1.21zM278.62 291.4h1.21V306h-1.21zM279.82 281.4h1.21V306h-1.21zM281.03 281.4h1.21V306h-1.21zM282.23 282.6h1.21V306h-1.21zM283.44 282.6h1.21V306h-1.21zM284.64 284.9h1.21V306h-1.21zM285.85 293.2h1.21V306h-1.21zM287.06 293.2h1.21V306h-1.21zM289.47 270.1h1.21V306h-1.21zM290.67 275.5h1.21V306h-1.21zM291.88 281.4h1.21V306h-1.21zM293.09 281.4h1.21V306h-1.21zM294.29 288.5h1.21V306h-1.21zM295.5 280.2h1.21V306h-1.21zM296.7 280.2h1.21V306h-1.21zM297.91 298h1.21V306h-1.21zM299.11 288.5h1.21V306h-1.21zM300.32 288.5h1.21V306h-1.21zM301.53 286.7h1.21V306h-1.21zM302.73 294.4h1.21V306h-1.21zM303.94 287.3h1.21V306h-1.21zM305.14 287.3h1.21V306h-1.21zM306.35 289.7h1.21V306h-1.21zM307.56 281.4h1.21V306h-1.21zM308.76 289.7h1.21V306h-1.21zM309.97 289.7h1.21V306h-1.21zM311.17 271.3h1.21V306h-1.21zM312.38 271.3h1.21V306h-1.21zM313.58 287.3h1.21V306h-1.21zM314.79 289.1h1.21V306h-1.21zM316 296.2h1.21V306h-1.21zM317.2 271.3h1.21V306h-1.21zM318.41 299.1h1.21V306h-1.21zM322.02 286.1h1.21V306h-1.21zM323.23 275.5h1.21V306h-1.21zM324.44 275.5h1.21V306h-1.21zM325.64 288.5h1.21V306h-1.21zM326.85 268.4h1.21V306h-1.21zM328.05 268.4h1.21V306h-1.21zM329.26 281.4h1.21V306h-1.21zM330.47 281.4h1.21V306h-1.21zM331.67 288.5h1.21V306h-1.21zM332.88 293.2h1.21V306h-1.21zM334.08 293.2h1.21V306h-1.21zM335.29 288.5h1.21V306h-1.21zM336.49 286.7h1.21V306h-1.21zM337.7 286.7h1.21V306h-1.21zM338.91 299.1h1.21V306h-1.21zM340.11 282.6h1.21V306h-1.21zM341.32 282.6h1.21V306h-1.21zM343.73 300.3h1.21V306h-1.21zM344.93 289.1h1.21V306h-1.21zM346.14 289.1h1.21V306h-1.21zM347.35 283.8h1.21V306h-1.21zM348.55 304h1.21V306h-1.21zM349.76 304h1.21V306h-1.21zM350.96 289.7h1.21V306h-1.21zM352.17 284.3h1.21V306h-1.21zM353.38 284.3h1.21V306h-1.21zM354.58 284.7h1.21V306h-1.21zM355.79 284.7h1.21V306h-1.21zM356.99 289.4h1.21V306h-1.21zM358.2 285.9h1.21V306h-1.21zM359.4 285.9h1.21V306h-1.21zM360.61 296h1.21V306h-1.21zM361.82 304.8h1.21V306h-1.21zM363.02 284.7h1.21V306h-1.21zM364.23 289.4h1.21V306h-1.21zM365.43 281.7h1.21V306h-1.21zM366.64 281.7h1.21V306h-1.21zM367.85 284.1h1.21V306h-1.21zM369.05 294.2h1.21V306h-1.21zM370.26 288.8h1.21V306h-1.21zM371.46 288.8h1.21V306h-1.21zM372.67 300.1h1.21V306h-1.21zM373.87 284.7h1.21V306h-1.21zM375.08 284.7h1.21V306h-1.21zM377.49 284.7h1.21V306h-1.21zM378.7 284.7h1.21V306h-1.21zM379.9 290.6h1.21V306h-1.21zM381.11 290.6h1.21V306h-1.21zM382.31 290.6h1.21V306h-1.21zM383.52 293.6h1.21V306h-1.21zM385.93 305.4h1.21V306h-1.21zM387.14 276.4h1.21V306h-1.21zM388.34 276.4h1.21V306h-1.21zM389.55 280.6h1.21V306h-1.21zM390.76 290.6h1.21V306h-1.21zM391.96 298.9h1.21V306h-1.21zM393.17 298.9h1.21V306h-1.21zM395.58 288.2h1.21V306h-1.21zM396.78 281.7h1.21V306h-1.21zM397.99 281.7h1.21V306h-1.21zM399.2 277.6h1.21V306h-1.21zM401.61 279.4h1.21V306h-1.21zM402.81 279.4h1.21V306h-1.21zM404.02 296.5h1.21V306h-1.21zM406.43 302.4h1.21V306h-1.21zM407.64 291.8h1.21V306h-1.21zM408.84 291.8h1.21V306h-1.21zM410.05 294.8h1.21V306h-1.21zM411.25 293.6h1.21V306h-1.21zM412.46 259.6h1.21V306h-1.21zM413.67 296h1.21V306h-1.21zM416.08 262.8h1.21V306h-1.21zM418.49 264.6h1.21V306h-1.21zM419.69 291h1.21V306h-1.21zM420.9 291h1.21V306h-1.21zM422.11 290.6h1.21V306h-1.21zM423.31 290.6h1.21V306h-1.21zM424.52 291.2h1.21V306h-1.21zM425.72 295.3h1.21V306h-1.21zM426.93 284.7h1.21V306h-1.21zM429.34 302.4h1.21V306h-1.21zM430.55 288.2h1.21V306h-1.21zM431.75 284.1h1.21V306h-1.21zM432.96 284.1h1.21V306h-1.21zM434.16 284.1h1.21V306h-1.21zM435.37 289.4h1.21V306h-1.21zM436.58 289.4h1.21V306h-1.21zM437.78 293h1.21V306h-1.21zM438.99 292.4h1.21V306h-1.21zM440.19 292.4h1.21V306h-1.21zM441.4 293h1.21V306h-1.21zM442.6 285.3h1.21V306h-1.21zM443.81 285.3h1.21V306h-1.21zM445.02 297.7h1.21V306h-1.21zM446.22 290.6h1.21V306h-1.21zM447.43 294.2h1.21V306h-1.21zM448.63 300.7h1.21V306h-1.21zM449.84 300.7h1.21V306h-1.21zM451.05 282.3h1.21V306h-1.21zM452.25 300.1h1.21V306h-1.21zM453.46 300.1h1.21V306h-1.21zM454.66 296.5h1.21V306h-1.21zM455.87 288.2h1.21V306h-1.21zM457.07 288.2h1.21V306h-1.21zM458.28 300.7h1.21V306h-1.21zM459.49 285.3h1.21V306h-1.21zM460.69 285.3h1.21V306h-1.21zM461.9 282.3h1.21V306h-1.21zM463.1 282.3h1.21V306h-1.21zM464.31 293.6h1.21V306h-1.21zM465.51 302.4h1.21V306h-1.21zM466.72 302.4h1.21V306h-1.21zM467.93 292.4h1.21V306h-1.21zM469.13 293h1.21V306h-1.21zM470.34 293h1.21V306h-1.21zM471.54 296h1.21V306h-1.21zM477.57 284.7h1.21V306h-1.21zM478.78 284.7h1.21V306h-1.21zM481.19 294.2h1.21V306h-1.21zM482.4 294.8h1.21V306h-1.21zM483.6 294.8h1.21V306h-1.21zM484.81 302.4h1.21V306h-1.21zM486.01 299.5h1.21V306h-1.21zM488.43 293.6h1.21V306h-1.21zM489.63 276.4h1.21V306h-1.21zM490.84 276.4h1.21V306h-1.21zM492.04 298.9h1.21V306h-1.21zM493.25 298.3h1.21V306h-1.21zM494.45 298.3h1.21V306h-1.21zM495.66 294.8h1.21V306h-1.21zM496.87 297.7h1.21V306h-1.21zM498.07 297.7h1.21V306h-1.21zM499.28 294.8h1.21V306h-1.21zM500.48 291.2h1.21V306h-1.21zM501.69 293h1.21V306h-1.21zM502.89 293h1.21V306h-1.21zM504.1 290.6h1.21V306h-1.21zM505.31 300.1h1.21V306h-1.21zM506.51 302.4h1.21V306h-1.21zM507.72 302.4h1.21V306h-1.21zM508.92 289.4h1.21V306h-1.21zM510.13 294.8h1.21V306h-1.21zM511.34 294.8h1.21V306h-1.21zM512.54 300.1h1.21V306h-1.21zM513.75 300.1h1.21V306h-1.21zM514.95 293.6h1.21V306h-1.21zM516.16 297.7h1.21V306h-1.21zM517.36 297.7h1.21V306h-1.21zM518.57 300.1h1.21V306h-1.21zM519.78 302.4h1.21V306h-1.21zM520.98 287.7h1.21V306h-1.21zM522.19 287.7h1.21V306h-1.21zM523.39 296.5h1.21V306h-1.21zM524.6 290.6h1.21V306h-1.21zM525.8 290.6h1.21V306h-1.21zM527.01 300.1h1.21V306h-1.21zM528.22 289.4h1.21V306h-1.21zM529.42 289.4h1.21V306h-1.21zM530.63 291.2h1.21V306h-1.21zM531.83 300.7h1.21V306h-1.21zM533.04 300.7h1.21V306h-1.21zM534.25 301.3h1.21V306h-1.21zM535.45 293.6h1.21V306h-1.21zM536.66 293.6h1.21V306h-1.21zM537.86 301.3h1.21V306h-1.21zM539.07 289.4h1.21V306h-1.21zM541.48 293.6h1.21V306h-1.21zM542.69 300.1h1.21V306h-1.21zM543.89 300.1h1.21V306h-1.21zM545.1 300.7h1.21V306h-1.21zM546.3 291.2h1.21V306h-1.21zM547.51 291.2h1.21V306h-1.21zM549.92 289.4h1.21V306h-1.21zM551.13 289.4h1.21V306h-1.21zM552.33 294.2h1.21V306h-1.21zM553.54 302.4h1.21V306h-1.21zM554.74 302.4h1.21V306h-1.21zM555.95 298.3h1.21V306h-1.21zM557.16 298.3h1.21V306h-1.21zM558.36 295.3h1.21V306h-1.21zM559.57 295.3h1.21V306h-1.21zM560.77 298.9h1.21V306h-1.21zM561.98 295.3h1.21V306h-1.21zM563.18 295.3h1.21V306h-1.21zM564.39 300.1h1.21V306h-1.21zM565.6 300.1h1.21V306h-1.21zM566.8 304.8h1.21V306h-1.21zM568.01 304.8h1.21V306h-1.21zM569.21 288.2h1.21V306h-1.21zM570.42 288.2h1.21V306h-1.21zM571.63 297.7h1.21V306h-1.21zM572.83 297.7h1.21V306h-1.21zM574.04 294.2h1.21V306h-1.21zM575.24 296h1.21V306h-1.21zM576.45 296h1.21V306h-1.21zM577.65 295.3h1.21V306h-1.21zM578.86 295.3h1.21V306h-1.21zM580.07 297.7h1.21V306h-1.21zM581.27 297.7h1.21V306h-1.21zM582.48 290h1.21V306h-1.21zM583.68 300.1h1.21V306h-1.21zM584.89 300.1h1.21V306h-1.21zM586.09 293.6h1.21V306h-1.21zM587.3 293.6h1.21V306h-1.21zM588.51 298.9h1.21V306h-1.21zM589.71 289.4h1.21V306h-1.21zM590.92 289.4h1.21V306h-1.21zM592.12 297.7h1.21V306h-1.21zM593.33 297.7h1.21V306h-1.21zM594.54 287.7h1.21V306h-1.21zM595.74 287.7h1.21V306h-1.21zM596.95 297.7h1.21V306h-1.21zM598.15 297.7h1.21V306h-1.21zM599.36 300.1h1.21V306h-1.21zM600.56 291.2h1.21V306h-1.21zM601.77 291.2h1.21V306h-1.21zM602.98 300.1h1.21V306h-1.21zM604.18 281.1h1.21V306h-1.21zM605.39 281.1h1.21V306h-1.21zM606.59 275.8h1.21V306h-1.21zM607.8 282.3h1.21V306h-1.21zM609.01 287.7h1.21V306h-1.21zM611.42 296.5h1.21V306h-1.21zM612.62 296.5h1.21V306h-1.21zM613.83 302.4h1.21V306h-1.21zM615.03 302.4h1.21V306h-1.21zM616.24 283.5h1.21V306h-1.21zM617.45 301.3h1.21V306h-1.21zM618.65 301.3h1.21V306h-1.21zM619.86 294.8h1.21V306h-1.21zM621.06 298.3h1.21V306h-1.21zM622.27 302.4h1.21V306h-1.21zM624.68 294.8h1.21V306h-1.21zM625.89 294.8h1.21V306h-1.21zM627.09 296.5h1.21V306h-1.21zM628.3 296.5h1.21V306h-1.21zM631.92 254.5h1.21V306h-1.21zM635.53 295.3h1.21V306h-1.21zM636.74 295.3h1.21V306h-1.21zM637.94 301.3h1.21V306h-1.21zM639.15 288.2h1.21V306h-1.21zM641.56 290.6h1.21V306h-1.21zM642.77 290.6h1.21V306h-1.21zM643.97 301.3h1.21V306h-1.21zM646.38 296h1.21V306h-1.21zM647.59 293.6h1.21V306h-1.21zM648.8 293.6h1.21V306h-1.21zM650 301.3h1.21V306h-1.21zM651.21 301.3h1.21V306h-1.21zM652.41 291.2h1.21V306h-1.21zM653.62 301.3h1.21V306h-1.21zM654.83 301.3h1.21V306h-1.21zM656.03 293h1.21V306h-1.21zM657.24 293h1.21V306h-1.21zM658.44 283.5h1.21V306h-1.21zM659.65 303.6h1.21V306h-1.21zM660.85 303.6h1.21V306h-1.21zM662.06 293.6h1.21V306h-1.21zM663.27 293.6h1.21V306h-1.21zM664.47 292.4h1.21V306h-1.21zM665.68 300.1h1.21V306h-1.21zM666.88 300.1h1.21V306h-1.21zM668.09 293h1.21V306h-1.21zM669.3 289.4h1.21V306h-1.21zM671.71 290.6h1.21V306h-1.21zM672.91 298.9h1.21V306h-1.21zM674.12 291.2h1.21V306h-1.21zM675.32 291.2h1.21V306h-1.21zM676.53 293.6h1.21V306h-1.21zM677.74 293.6h1.21V306h-1.21zM680.15 293.6h1.21V306h-1.21zM681.35 293.6h1.21V306h-1.21zM682.56 289.4h1.21V306h-1.21zM683.76 300.1h1.21V306h-1.21zM684.97 284.7h1.21V306h-1.21zM686.18 284.7h1.21V306h-1.21zM687.38 295.3h1.21V306h-1.21zM688.59 295.3h1.21V306h-1.21zM689.79 297.7h1.21V306h-1.21zM691 301.3h1.21V306h-1.21zM692.21 301.3h1.21V306h-1.21zM693.41 287.7h1.21V306h-1.21zM694.62 298.9h1.21V306h-1.21zM695.82 298.9h1.21V306h-1.21zM697.03 295.3h1.21V306h-1.21zM698.23 295.3h1.21V306h-1.21zM699.44 290.6h1.21V306h-1.21zM700.65 290.6h1.21V306h-1.21zM701.85 301.3h1.21V306h-1.21zM703.06 299.5h1.21V306h-1.21zM704.26 299.5h1.21V306h-1.21zM705.47 288.2h1.21V306h-1.21zM706.67 288.2h1.21V306h-1.21zM707.88 297.7h1.21V306h-1.21zM709.09 299.5h1.21V306h-1.21zM710.29 299.5h1.21V306h-1.21zM711.5 299.5h1.21V306h-1.21zM712.7 299.5h1.21V306h-1.21zM713.91 298.3h1.21V306h-1.21zM715.12 298.5h1.21V306h-1.21zM716.32 298.5h1.21V306h-1.21zM717.53 298.5h1.21V306h-1.21zM718.73 298.5h1.21V306h-1.21zM719.94 293.2h1.21V306h-1.21zM721.14 302.7h1.21V306h-1.21zM723.56 297.4h1.21V306h-1.21zM724.76 297.4h1.21V306h-1.21zM725.97 299.7h1.21V306h-1.21zM727.17 295.6h1.21V306h-1.21zM728.38 295.6h1.21V306h-1.21zM736.82 296.2h1.21V306h-1.21zM741.64 295.6h1.21V306h-1.21zM742.85 298h1.21V306h-1.21zM744.05 298h1.21V306h-1.21zM745.26 283.1h1.21V306h-1.21zM747.67 298h1.21V306h-1.21zM748.88 295h1.21V306h-1.21zM750.08 295.3h1.21V306h-1.21zM751.29 302.4h1.21V306h-1.21zM752.5 295.3h1.21V306h-1.21zM753.7 295.3h1.21V306h-1.21zM754.91 302.4h1.21V306h-1.21zM756.11 302.4h1.21V306h-1.21zM757.32 302.4h1.21V306h-1.21zM758.52 298.9h1.21V306h-1.21zM759.73 302.4h1.21V306h-1.21zM760.94 302.4h1.21V306h-1.21zM762.14 296.5h1.21V306h-1.21zM763.35 296.5h1.21V306h-1.21zM764.55 298.9h1.21V306h-1.21zM765.76 298.9h1.21V306h-1.21zM766.96 300.1h1.21V306h-1.21zM768.17 292.4h1.21V306h-1.21zM769.38 292.4h1.21V306h-1.21zM770.58 301.3h1.21V306h-1.21zM771.79 301.3h1.21V306h-1.21zM772.99 299.5h1.21V306h-1.21zM774.2 301.3h1.21V306h-1.21zM775.41 303.6h1.21V306h-1.21zM776.61 303.6h1.21V306h-1.21zM777.82 304.8h1.21V306h-1.21zM779.02 304.8h1.21V306h-1.21zM780.23 290.6h1.21V306h-1.21zM781.43 301.3h1.21V306h-1.21zM782.64 301.3h1.21V306h-1.21zM787.46 301.3h1.21V306h-1.21zM788.67 296.5h1.21V306h-1.21zM789.88 296.5h1.21V306h-1.21zM791.08 301.3h1.21V306h-1.21zM792.29 301.3h1.21V306h-1.21zM793.49 296.5h1.21V306h-1.21zM794.7 296.5h1.21V306h-1.21zM795.9 301.3h1.21V306h-1.21zM799.52 301.3h1.21V306h-1.21zM800.73 301.3h1.21V306h-1.21zM801.93 300.1h1.21V306h-1.21zM803.14 300.1h1.21V306h-1.21zM804.34 297.7h1.21V306h-1.21zM805.55 297.7h1.21V306h-1.21zM806.76 295.3h1.21V306h-1.21zM809.17 301.3h1.21V306h-1.21zM810.37 295.3h1.21V306h-1.21zM811.58 296h1.21V306h-1.21zM812.79 296h1.21V306h-1.21zM813.99 297.7h1.21V306h-1.21zM815.2 295.3h1.21V306h-1.21zM816.4 293.6h1.21V306h-1.21zM817.61 293.6h1.21V306h-1.21zM818.81 300.1h1.21V306h-1.21zM820.02 295.3h1.21V306h-1.21zM821.23 295.3h1.21V306h-1.21zM824.84 298.9h1.21V306h-1.21zM826.05 297.7h1.21V306h-1.21zM827.25 295.3h1.21V306h-1.21zM828.46 295.3h1.21V306h-1.21zM829.67 297.7h1.21V306h-1.21zM830.87 297.7h1.21V306h-1.21zM832.08 302.4h1.21V306h-1.21zM833.28 302.4h1.21V306h-1.21zM834.49 301.9h1.21V306h-1.21zM835.7 301.3h1.21V306h-1.21zM836.9 301.3h1.21V306h-1.21zM838.11 297.7h1.21V306h-1.21zM839.31 296.3h1.21V306h-1.21zM841.72 293.3h1.21V306h-1.21zM842.93 298.7h1.21V306h-1.21zM844.14 294.5h1.21V306h-1.21zM845.34 294.5h1.21V306h-1.21zM846.55 301h1.21V306h-1.21zM847.75 297.5h1.21V306h-1.21zM848.96 301h1.21V306h-1.21zM850.17 294.5h1.21V306h-1.21zM851.37 294.5h1.21V306h-1.21zM852.58 298.7h1.21V306h-1.21zM853.78 298.7h1.21V306h-1.21zM854.99 299.8h1.21V306h-1.21zM856.19 299.8h1.21V306h-1.21zM857.4 299.3h1.21V306h-1.21zM858.61 299.3h1.21V306h-1.21zM859.81 301h1.21V306h-1.21zM861.02 301h1.21V306h-1.21zM862.22 288h1.21V306h-1.21zM863.43 294h1.21V306h-1.21zM864.63 294h1.21V306h-1.21zM865.84 298.7h1.21V306h-1.21zM867.05 298.7h1.21V306h-1.21zM868.25 298.7h1.21V306h-1.21zM869.46 294.5h1.21V306h-1.21zM870.66 294.5h1.21V306h-1.21zM871.87 295.7h1.21V306h-1.21zM873.08 295.7h1.21V306h-1.21zM874.28 298h1.21V306h-1.21zM875.49 298h1.21V306h-1.21zM876.69 301h1.21V306h-1.21zM877.9 295.1h1.21V306h-1.21zM881.52 300.4h1.21V306h-1.21zM882.72 295.7h1.21V306h-1.21zM883.93 299.3h1.21V306h-1.21zM885.13 288h1.21V306h-1.21zM886.34 288h1.21V306h-1.21zM887.54 294.5h1.21V306h-1.21zM888.75 294.5h1.21V306h-1.21zM889.96 296.9h1.21V306h-1.21zM891.16 296.9h1.21V306h-1.21zM892.37 298.7h1.21V306h-1.21zM893.57 298.7h1.21V306h-1.21zM894.78 298.7h1.21V306h-1.21zM895.99 299.8h1.21V306h-1.21zM897.19 299.8h1.21V306h-1.21z" fill="#2fbd2f"/>
<path d="M17.92 283.2h1.7V306h-1.7zM22.74 282.6h1.7V292h-1.7zM31.18 270.7h1.7V278.4h-1.7zM77 284.3h1.7V296.2h-1.7zM86.65 290.3h1.7V296.2h-1.7zM90.26 280.2h1.7V290.3h-1.7zM101.12 275.5h1.7V285.5h-1.7zM134.88 289.1h1.7V294.4h-1.7zM145.73 269.6h1.7V285.5h-1.7zM157.79 284.3h1.7V290.3h-1.7zM166.23 284.3h1.7V296.2h-1.7zM186.73 276.7h1.7V280.8h-1.7zM231.34 281.1h1.7V287.1h-1.7zM240.99 297.7h1.7V302.5h-1.7zM249.43 261h1.7V282.3h-1.7zM262.69 288.5h1.7V294.4h-1.7zM265.11 276.7h1.7V290.9h-1.7zM272.34 271.3h1.7V287.9h-1.7zM289.22 270.1h1.7V275.5h-1.7zM307.31 281.4h1.7V289.7h-1.7zM316.95 271.3h1.7V296.2h-1.7zM347.1 283.8h1.7V289.1h-1.7zM362.77 284.7h1.7V289.4h-1.7zM398.95 277.6h1.7V281.7h-1.7zM412.21 259.6h1.7V293.6h-1.7zM415.83 262.8h1.7V306h-1.7zM418.24 264.6h1.7V291h-1.7zM426.68 284.7h1.7V295.3h-1.7zM445.97 290.6h1.7V294.2h-1.7zM450.8 282.3h1.7V300.1h-1.7zM508.68 289.4h1.7V294.8h-1.7zM514.71 293.6h1.7V297.7h-1.7zM538.82 289.4h1.7V301.3h-1.7zM541.23 293.6h1.7V300.1h-1.7zM582.23 290h1.7V297.7h-1.7zM606.35 275.8h1.7V281.1h-1.7zM615.99 283.5h1.7V301.3h-1.7zM619.61 294.8h1.7V298.3h-1.7zM631.67 254.5h1.7V306h-1.7zM638.9 288.2h1.7V301.3h-1.7zM652.17 291.2h1.7V301.3h-1.7zM658.2 283.5h1.7V293h-1.7zM669.05 289.4h1.7V293h-1.7zM671.46 290.6h1.7V298.9h-1.7zM682.31 289.4h1.7V293.6h-1.7zM693.16 287.7h1.7V298.9h-1.7zM719.69 293.2h1.7V298.5h-1.7zM736.57 296.2h1.7V306h-1.7zM745.01 283.1h1.7V298h-1.7zM758.28 298.9h1.7V302.4h-1.7zM779.98 290.6h1.7V301.3h-1.7zM841.48 293.3h1.7V298.7h-1.7zM847.51 297.5h1.7V301h-1.7zM861.98 288h1.7V294h-1.7zM877.65 295.1h1.7V301h-1.7zM882.47 295.7h1.7V299.3h-1.7z" fill="#3d963d"/>
<path d="M16.96 306h1.21V308.6h-1.21zM19.37 306h1.21V307.8h-1.21zM24.19 306h1.21V313.9h-1.21zM32.63 306h1.21V342h-1.21zM41.07 306h1.21V329h-1.21zM47.1 306h1.21V307.5h-1.21zM62.78 306h1.21V313.9h-1.21zM67.6 306h1.21V315.1h-1.21zM72.42 306h1.21V311h-1.21zM80.86 306h1.21V309.8h-1.21zM95.33 306h1.21V311h-1.21zM96.54 306h1.21V317h-1.21zM106.19 306h1.21V315.2h-1.21zM118.24 306h1.21V320.4h-1.21zM125.48 306h1.21V308.6h-1.21zM130.3 306h1.21V311h-1.21zM139.95 306h1.21V317.4h-1.21zM174.92 306h1.21V311h-1.21zM183.36 306h1.21V311h-1.21zM195.42 306h1.21V307.5h-1.21zM225.56 306h1.21V307.5h-1.21zM242.44 306h1.21V311.9h-1.21zM264.15 306h1.21V311h-1.21zM288.26 306h1.21V314.3h-1.21zM319.61 306h1.21V319.8h-1.21zM342.52 306h1.21V307.5h-1.21zM376.29 306h1.21V318h-1.21zM384.73 306h1.21V307.5h-1.21zM394.37 306h1.21V310.6h-1.21zM400.4 306h1.21V331.8h-1.21zM405.22 306h1.21V310.6h-1.21zM414.87 306h1.21V330h-1.21zM417.28 306h1.21V343.5h-1.21zM428.14 306h1.21V308.8h-1.21zM476.37 306h1.21V315.8h-1.21zM479.98 306h1.21V309h-1.21zM487.22 306h1.21V310h-1.21zM540.27 306h1.21V308.8h-1.21zM548.72 306h1.21V310h-1.21zM610.21 306h1.21V309.7h-1.21zM623.47 306h1.21V308h-1.21zM630.71 306h1.21V331.2h-1.21zM633.12 306h1.21V316.8h-1.21zM640.36 306h1.21V311.8h-1.21zM645.18 306h1.21V308.8h-1.21zM670.5 306h1.21V309.7h-1.21zM678.94 306h1.21V308h-1.21zM722.35 306h1.21V308.6h-1.21zM729.59 306h1.21V308h-1.21zM730.79 306h1.21V308h-1.21zM732 306h1.21V318h-1.21zM733.2 306h1.21V331.7h-1.21zM734.41 306h1.21V331.7h-1.21zM738.03 306h1.21V309.2h-1.21zM739.23 306h1.21V314.5h-1.21zM746.47 306h1.21V321h-1.21zM786.26 306h1.21V309.7h-1.21zM798.32 306h1.21V309.7h-1.21zM807.96 306h1.21V307.5h-1.21zM823.64 306h1.21V309.7h-1.21zM840.52 306h1.21V307.5h-1.21zM880.31 306h1.21V321h-1.21zM898.4 306h1.21V445h-1.21z" fill="#d60b0b"/>
<path d="M23.79 306h2V313.9h-2zM32.24 306h2V342h-2zM40.68 306h2V329h-2zM62.38 306h2V313.9h-2zM67.2 306h2V315.1h-2zM72.03 306h2V311h-2zM80.47 306h2V309.8h-2zM96.14 311h2V317h-2zM105.79 306h2V315.2h-2zM117.85 306h2V320.4h-2zM129.91 306h2V311h-2zM139.55 306h2V317.4h-2zM174.52 306h2V311h-2zM182.96 306h2V311h-2zM242.04 306h2V311.9h-2zM263.75 306h2V311h-2zM287.87 306h2V314.3h-2zM319.22 306h2V319.8h-2zM375.89 306h2V318h-2zM393.98 306h2V310.6h-2zM400 306h2V331.8h-2zM404.83 306h2V310.6h-2zM414.47 306h2V330h-2zM416.89 306h2V343.5h-2zM475.97 306h2V315.8h-2zM486.82 306h2V310h-2zM548.32 306h2V310h-2zM609.81 306h2V309.7h-2zM630.31 306h2V331.2h-2zM632.72 306h2V316.8h-2zM639.96 306h2V311.8h-2zM670.1 306h2V309.7h-2zM738.83 309.2h2V314.5h-2zM746.07 306h2V321h-2zM785.86 306h2V309.7h-2zM797.92 306h2V309.7h-2zM823.24 306h2V309.7h-2zM879.91 306h2V321h-2zM898 306h2V445h-2z" fill="#ad1420"/>
<line x1="923.5" y1="0" x2="923.5" y2="230" stroke="#4f8a4f" stroke-width="1"/>
<line x1="923.5" y1="235" x2="923.5" y2="466" stroke="#4f8a4f" stroke-width="1"/>
<path d="M923.5 -0.7999999999999998L929.5 1.5L923.5 3.8z" class="tk"/><line x1="928" y1="1.5" x2="931.5" y2="1.5" class="tl"/><path d="M923.5 38.2L929.5 40.5L923.5 42.8z" class="tk"/><line x1="928" y1="40.5" x2="931.5" y2="40.5" class="tl"/><path d="M923.5 77.2L929.5 79.5L923.5 81.8z" class="tk"/><line x1="928" y1="79.5" x2="931.5" y2="79.5" class="tl"/><path d="M923.5 116.2L929.5 118.5L923.5 120.8z" class="tk"/><line x1="928" y1="118.5" x2="931.5" y2="118.5" class="tl"/><path d="M923.5 155.2L929.5 157.5L923.5 159.8z" class="tk"/><line x1="928" y1="157.5" x2="931.5" y2="157.5" class="tl"/><path d="M923.5 193.2L929.5 195.5L923.5 197.8z" class="tk"/><line x1="928" y1="195.5" x2="931.5" y2="195.5" class="tl"/><line x1="923.5" y1="20.5" x2="927" y2="20.5" class="mt"/><line x1="923.5" y1="60.5" x2="927" y2="60.5" class="mt"/><line x1="923.5" y1="99.5" x2="927" y2="99.5" class="mt"/><line x1="923.5" y1="137.5" x2="927" y2="137.5" class="mt"/><line x1="923.5" y1="176.5" x2="927" y2="176.5" class="mt"/><line x1="923.5" y1="215.5" x2="927" y2="215.5" class="mt"/><path d="M923.5 267.2L929.5 269.5L923.5 271.8z" class="tk"/><line x1="928" y1="269.5" x2="931.5" y2="269.5" class="tl"/><path d="M923.5 304.2L929.5 306.5L923.5 308.8z" class="tk"/><line x1="928" y1="306.5" x2="931.5" y2="306.5" class="tl"/><path d="M923.5 341.2L929.5 343.5L923.5 345.8z" class="tk"/><line x1="928" y1="343.5" x2="931.5" y2="343.5" class="tl"/><path d="M923.5 379.2L929.5 381.5L923.5 383.8z" class="tk"/><line x1="928" y1="381.5" x2="931.5" y2="381.5" class="tl"/><path d="M923.5 416.2L929.5 418.5L923.5 420.8z" class="tk"/><line x1="928" y1="418.5" x2="931.5" y2="418.5" class="tl"/><path d="M923.5 453.2L929.5 455.5L923.5 457.8z" class="tk"/><line x1="928" y1="455.5" x2="931.5" y2="455.5" class="tl"/><line x1="923.5" y1="250.5" x2="927" y2="250.5" class="mt"/><line x1="923.5" y1="287.5" x2="927" y2="287.5" class="mt"/><line x1="923.5" y1="325.5" x2="927" y2="325.5" class="mt"/><line x1="923.5" y1="362.5" x2="927" y2="362.5" class="mt"/><line x1="923.5" y1="399.5" x2="927" y2="399.5" class="mt"/><line x1="923.5" y1="437.5" x2="927" y2="437.5" class="mt"/>
<text x="933" y="45.9" class="al">4.0</text><text x="933" y="84.9" class="al">2.0</text><text x="933" y="123.9" class="al">0.0</text><text x="933" y="200.9" class="al">-4.0</text><text x="933" y="274.9" class="al">2.0</text><text x="933" y="311.9" class="al">0.0</text><text x="933" y="348.9" class="al">-2.0</text><text x="933" y="386.9" class="al">-4.0</text><text x="933" y="423.9" class="al">-6.0</text><text x="933" y="460.9" class="al">-8.0</text>
<rect x="8" y="230" width="960" height="4.7" fill="#3f3f3f"/>
<rect x="8" y="230" width="960" height="0.8" fill="#262626"/>
<rect x="8" y="233.9" width="960" height="0.8" fill="#262626"/>
<line x1="481" y1="231.5" x2="495" y2="231.5" stroke="#aaa" stroke-width="0.6" stroke-dasharray="1 1"/>
<line x1="481" y1="233.2" x2="495" y2="233.2" stroke="#aaa" stroke-width="0.6" stroke-dasharray="1 1"/>
<line x1="8" y1="466.5" x2="924" y2="466.5" stroke="#111" stroke-width="1.2"/>
<line x1="27.5" y1="466" x2="27.5" y2="500" class="sp"/><line x1="100.5" y1="466" x2="100.5" y2="500" class="sp"/><line x1="172.5" y1="466" x2="172.5" y2="500" class="sp"/><line x1="244.5" y1="466" x2="244.5" y2="500" class="sp"/><line x1="317.5" y1="466" x2="317.5" y2="500" class="sp"/><line x1="389.5" y1="466" x2="389.5" y2="500" class="sp"/><line x1="461.5" y1="466" x2="461.5" y2="500" class="sp"/><line x1="534.5" y1="466" x2="534.5" y2="500" class="sp"/><line x1="606.5" y1="466" x2="606.5" y2="500" class="sp"/><line x1="678.5" y1="466" x2="678.5" y2="500" class="sp"/><line x1="751.5" y1="466" x2="751.5" y2="500" class="sp"/><line x1="823.5" y1="466" x2="823.5" y2="500" class="sp"/><line x1="895.5" y1="466" x2="895.5" y2="500" class="sp"/>
<text x="64.0" y="496.8" class="xl">'60-'64</text><text x="136.5" y="496.8" class="xl">'65-'69</text><text x="208.5" y="496.8" class="xl">'70-'74</text><text x="281.0" y="496.8" class="xl">'75-'79</text><text x="353.5" y="496.8" class="xl">'80-'84</text><text x="425.5" y="496.8" class="xl">'85-'89</text><text x="498.0" y="496.8" class="xl">'90-'94</text><text x="570.5" y="496.8" class="xl">'95-'99</text><text x="642.5" y="496.8" class="xl">'00-'04</text><text x="715.0" y="496.8" class="xl">'05-'09</text><text x="787.5" y="496.8" class="xl">'10-'14</text><text x="859.5" y="496.8" class="xl">'15-'19</text>
<rect x="8.7" y="1.7" width="312" height="30.4" rx="3.5" fill="#fff" stroke="#1a1a1a" stroke-width="1.4"/>
<rect x="17.5" y="11.5" width="11" height="11" fill="#2ec22e" stroke="#3a9a3a" stroke-width="1"/>
<text x="33.5" y="22.7" class="lg">US Personal Income MoM SA - Last Price <tspan dx="2.5">-2.0</tspan></text>
<rect x="8.7" y="434.7" width="525.8" height="30.5" rx="3.5" fill="#fff" stroke="#1a1a1a" stroke-width="1.4"/>
<rect x="17.5" y="444.5" width="11" height="11" fill="#2ec22e" stroke="#3a9a3a" stroke-width="1"/>
<text x="33.5" y="455.7" class="lg">US Personal Consumption Expenditures Nominal Dollars MoM SA - Last Price <tspan dx="2.5">-7.5</tspan></text>
<path d="M925 157.3L931 149H968V165.7H931z" fill="#36bb36"/>
<text x="933" y="162.9" class="lg" style="fill:#0d240d;font-size:14px">-2.0</text>
<path d="M925.5 446.3L931 438.1H968V454.6H931z" fill="#36bb36"/>
<text x="933" y="451.8" class="lg" style="fill:#0d240d;font-size:14px">-7.5</text>
<ellipse cx="900.6" cy="140.5" rx="11.7" ry="41" fill="none" stroke="#d01d35" stroke-width="3.2" transform="rotate(0.8 900.6 140.5)"/>
<ellipse cx="898.9" cy="375.7" rx="13.2" ry="85.1" fill="none" stroke="#d01d35" stroke-width="3.4"/>
</svg>
</body></html>
